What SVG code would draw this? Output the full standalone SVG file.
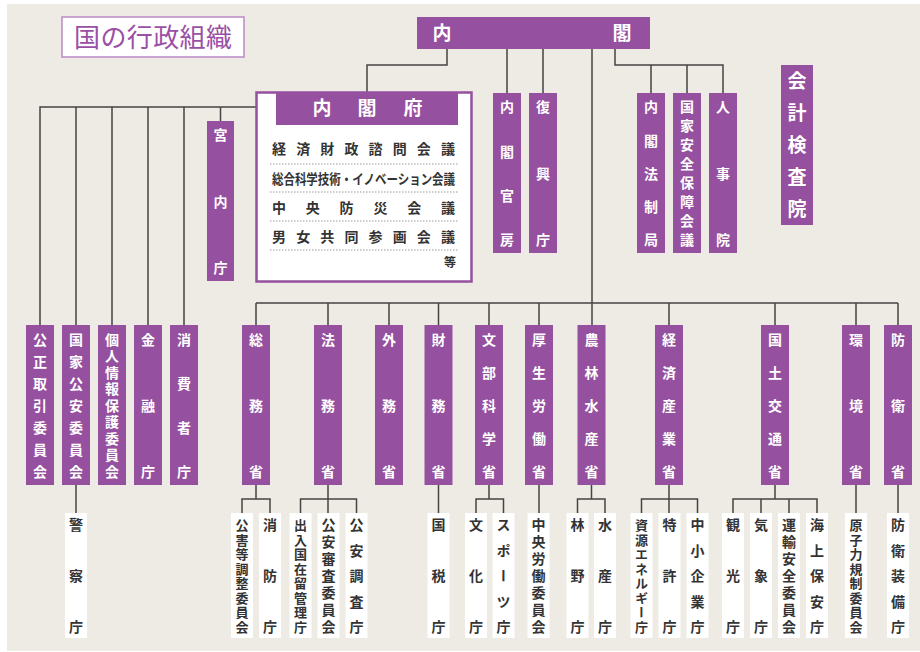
<svg xmlns="http://www.w3.org/2000/svg" width="920" height="652" viewBox="0 0 920 652">
<defs>
<style>
.bg{fill:#edebe4}
.pb{fill:#95509f}
.wb{fill:#ffffff}
.ln{fill:none;stroke:#444444;stroke-width:1.5}
.dot{fill:none;stroke:#9a9a9a;stroke-width:1;stroke-dasharray:1.5 1.5}
.vt{font-family:"Noto Sans CJK JP","Noto Sans CJK SC",sans-serif;font-weight:bold;font-size:14px;writing-mode:vertical-rl;text-anchor:middle}
.v8{font-size:13px}
.vw{fill:#ffffff}
.vd{fill:#333333}
.ht{font-family:"Noto Sans CJK JP","Noto Sans CJK SC",sans-serif;font-weight:bold}
</style>
</defs>
<rect x="0" y="0" width="920" height="652" fill="#ffffff"/>
<rect class="bg" x="7" y="4" width="913" height="647"/>

<g id="title">
<rect x="62" y="17" width="182" height="40" fill="#ffffff" stroke="#b98ac4" stroke-width="1.5"/>
<text x="74" y="47" font-family="'Noto Sans CJK JP','Noto Sans CJK SC',sans-serif" font-size="26" font-weight="400" fill="#9a4fa6" textLength="158" lengthAdjust="spacing">国の行政組織</text>
</g>

<g id="connectors">
<path class="ln" d="M447 49V65H367V92"/>
<path class="ln" d="M507 49V93M543 49V93"/>
<path class="ln" d="M592 49V325"/>
<path class="ln" d="M615 49V65H723V93M651 65V93M687 65V93"/>
<path class="ln" d="M256 107H40V325M76 107V325M112 107V325M148 107V325M184 107V325M220.5 107V121"/>
<path class="ln" d="M256 303H898M256 303V325M328 303V325M389 303V325M438.5 303V325M489 303V325M539 303V325M669 303V325M775 303V325M856 303V325M898 303V325"/>
<path class="ln" d="M76 485V513"/>
<path class="ln" d="M256 485V499M242 513V499H270V513"/>
<path class="ln" d="M328 485V513M300.5 513V499H356.5V513"/>
<path class="ln" d="M438.5 485V513"/>
<path class="ln" d="M489 485V499M476 513V499H503.5V513"/>
<path class="ln" d="M539 485V513"/>
<path class="ln" d="M591.5 485V499M577.5 513V499H605V513"/>
<path class="ln" d="M669 485V513M641.5 513V499H697.5V513"/>
<path class="ln" d="M775 485V499M733 513V499H817V513M761 499V513M789 499V513"/>
<path class="ln" d="M856 485V513"/>
<path class="ln" d="M898 485V513"/>
</g>

<g id="naikaku">
<rect class="pb" x="417" y="17" width="233" height="32"/>
<text class="ht" x="442" y="40" font-size="19" fill="#fff" text-anchor="middle">内</text>
<text class="ht" x="622" y="40" font-size="19" fill="#fff" text-anchor="middle">閣</text>
</g>

<g id="naikakufu">
<rect x="256.5" y="92.5" width="215" height="189" fill="#ffffff" stroke="#95509f" stroke-width="2.5"/>
<rect class="pb" x="276" y="92" width="182" height="33"/>
<text class="ht" x="322" y="115" font-size="19" fill="#fff" text-anchor="middle">内</text>
<text class="ht" x="367" y="115" font-size="19" fill="#fff" text-anchor="middle">閣</text>
<text class="ht" x="413" y="115" font-size="19" fill="#fff" text-anchor="middle">府</text>
<text class="ht" x="272" y="154" font-size="14" fill="#333" textLength="183" lengthAdjust="spacing">経済財政諮問会議</text>
<path class="dot" d="M270 164H458"/>
<text class="ht" x="272" y="184" font-size="14" fill="#333" textLength="183" lengthAdjust="spacingAndGlyphs">総合科学技術・イノベーション会議</text>
<path class="dot" d="M270 192H458"/>
<text class="ht" x="272" y="213" font-size="14" fill="#333" textLength="183" lengthAdjust="spacing">中央防災会議</text>
<path class="dot" d="M270 221H458"/>
<text class="ht" x="272" y="242" font-size="14" fill="#333" textLength="183" lengthAdjust="spacing">男女共同参画会議</text>
<path class="dot" d="M270 250H458"/>
<text class="ht" x="450" y="267" font-size="12" fill="#333" text-anchor="middle">等</text>
</g>

<g id="kunaicho"><rect class="pb" x="207" y="121" width="27" height="160"/><text class="vt vw" x="220.5" y="135 201.5 268">宮内庁</text></g>
<g id="naikakukanbo"><rect class="pb" x="493" y="93" width="28" height="160"/><text class="vt vw" x="507" y="107 151.3 195.7 240">内閣官房</text></g>
<g id="fukkocho"><rect class="pb" x="529" y="93" width="28" height="160"/><text class="vt vw" x="543" y="107 173.5 240">復興庁</text></g>
<g id="naikakuhoseikyoku"><rect class="pb" x="637" y="93" width="28" height="160"/><text class="vt vw" x="651" y="107 140.25 173.5 206.75 240">内閣法制局</text></g>
<g id="nss"><rect class="pb" x="673" y="93" width="28" height="160"/><text class="vt vw" x="687" y="107 126 145 164 183 202 221 240">国家安全保障会議</text></g>
<g id="jinjiin"><rect class="pb" x="709" y="93" width="28" height="160"/><text class="vt vw" x="723" y="107 173.5 240">人事院</text></g>
<g id="kaikeikensain"><rect class="pb" x="781" y="65" width="32" height="160"/><text class="vt vw" x="797" y="81 113 145 177 209" style="font-size:19px">会計検査院</text></g>

<g id="koutori"><rect class="pb" x="26" y="325" width="28" height="160"/><text class="vt vw" x="40" y="339.5 361.5 383.5 405.5 427.5 449.5 471.5">公正取引委員会</text></g>
<g id="kokkakoan"><rect class="pb" x="62" y="325" width="28" height="160"/><text class="vt vw" x="76" y="339.5 361.5 383.5 405.5 427.5 449.5 471.5">国家公安委員会</text></g>
<g id="kojinjoho"><rect class="pb" x="98" y="325" width="28" height="160"/><text class="vt vw" x="112" y="339.5 356 372.5 389 405.5 422 438.5 455 471.5">個人情報保護委員会</text></g>
<g id="kinyucho"><rect class="pb" x="134" y="325" width="28" height="160"/><text class="vt vw" x="148" y="339.5 405.5 471.5">金融庁</text></g>
<g id="shohisha"><rect class="pb" x="170" y="325" width="28" height="160"/><text class="vt vw" x="184" y="339.5 383.5 427.5 471.5">消費者庁</text></g>

<g id="somu"><rect class="pb" x="242" y="325" width="28" height="160"/><text class="vt vw" x="256" y="339.5 405.5 471.5">総務省</text></g>
<g id="homu"><rect class="pb" x="314" y="325" width="28" height="160"/><text class="vt vw" x="328" y="339.5 405.5 471.5">法務省</text></g>
<g id="gaimu"><rect class="pb" x="375" y="325" width="28" height="160"/><text class="vt vw" x="389" y="339.5 405.5 471.5">外務省</text></g>
<g id="zaimu"><rect class="pb" x="424.5" y="325" width="28" height="160"/><text class="vt vw" x="438.5" y="339.5 405.5 471.5">財務省</text></g>
<g id="monka"><rect class="pb" x="475" y="325" width="28" height="160"/><text class="vt vw" x="489" y="339.5 372.5 405.5 438.5 471.5">文部科学省</text></g>
<g id="koro"><rect class="pb" x="525" y="325" width="28" height="160"/><text class="vt vw" x="539" y="339.5 372.5 405.5 438.5 471.5">厚生労働省</text></g>
<g id="norin"><rect class="pb" x="577.5" y="325" width="28" height="160"/><text class="vt vw" x="591.5" y="339.5 372.5 405.5 438.5 471.5">農林水産省</text></g>
<g id="keisan"><rect class="pb" x="655" y="325" width="28" height="160"/><text class="vt vw" x="669" y="339.5 372.5 405.5 438.5 471.5">経済産業省</text></g>
<g id="kokudo"><rect class="pb" x="761" y="325" width="28" height="160"/><text class="vt vw" x="775" y="339.5 372.5 405.5 438.5 471.5">国土交通省</text></g>
<g id="kankyo"><rect class="pb" x="842" y="325" width="28" height="160"/><text class="vt vw" x="856" y="339.5 405.5 471.5">環境省</text></g>
<g id="boei"><rect class="pb" x="884" y="325" width="28" height="160"/><text class="vt vw" x="898" y="339.5 405.5 471.5">防衛省</text></g>

<g id="keisatsu"><rect class="wb" x="65" y="513" width="22" height="125"/><text class="vt vd" x="76" y="525 576 627">警察庁</text></g>
<g id="kogaito"><rect class="wb" x="231" y="513" width="22" height="125"/><text class="vt vd v8" x="242" y="525 539.6 554.1 568.7 583.3 597.9 612.4 627">公害等調整委員会</text></g>
<g id="shobo"><rect class="wb" x="259" y="513" width="22" height="125"/><text class="vt vd" x="270" y="525 576 627">消防庁</text></g>
<g id="nyukan"><rect class="wb" x="289.5" y="513" width="22" height="125"/><text class="vt vd v8" x="300.5" y="525 539.6 554.1 568.7 583.3 597.9 612.4 627">出入国在留管理庁</text></g>
<g id="koanshinsa"><rect class="wb" x="317.5" y="513" width="22" height="125"/><text class="vt vd" x="328.5" y="525 542 559 576 593 610 627">公安審査委員会</text></g>
<g id="koanchosa"><rect class="wb" x="345.5" y="513" width="22" height="125"/><text class="vt vd" x="356.5" y="525 550.5 576 601.5 627">公安調査庁</text></g>
<g id="kokuzei"><rect class="wb" x="427.5" y="513" width="22" height="125"/><text class="vt vd" x="438.5" y="525 576 627">国税庁</text></g>
<g id="bunka"><rect class="wb" x="465" y="513" width="22" height="125"/><text class="vt vd" x="476" y="525 576 627">文化庁</text></g>
<g id="sports"><rect class="wb" x="492.5" y="513" width="22" height="125"/><text class="vt vd" x="503.5" y="525 550.5 576 601.5 627">スポーツ庁</text></g>
<g id="churoi"><rect class="wb" x="527.5" y="513" width="22" height="125"/><text class="vt vd" x="538.5" y="525 542 559 576 593 610 627">中央労働委員会</text></g>
<g id="rinya"><rect class="wb" x="566.5" y="513" width="22" height="125"/><text class="vt vd" x="577.5" y="525 576 627">林野庁</text></g>
<g id="suisan"><rect class="wb" x="594" y="513" width="22" height="125"/><text class="vt vd" x="605" y="525 576 627">水産庁</text></g>
<g id="shigen"><rect class="wb" x="630.5" y="513" width="22" height="125"/><text class="vt vd v8" x="641.5" y="525 539.6 554.1 568.7 583.3 597.9 612.4 627">資源エネルギー庁</text></g>
<g id="tokkyo"><rect class="wb" x="658.5" y="513" width="22" height="125"/><text class="vt vd" x="669.5" y="525 576 627">特許庁</text></g>
<g id="chusho"><rect class="wb" x="686.5" y="513" width="22" height="125"/><text class="vt vd" x="697.5" y="525 550.5 576 601.5 627">中小企業庁</text></g>
<g id="kanko"><rect class="wb" x="722" y="513" width="22" height="125"/><text class="vt vd" x="733" y="525 576 627">観光庁</text></g>
<g id="kisho"><rect class="wb" x="750" y="513" width="22" height="125"/><text class="vt vd" x="761" y="525 576 627">気象庁</text></g>
<g id="unyuanzen"><rect class="wb" x="778" y="513" width="22" height="125"/><text class="vt vd" x="789" y="525 542 559 576 593 610 627">運輸安全委員会</text></g>
<g id="kaijo"><rect class="wb" x="806" y="513" width="22" height="125"/><text class="vt vd" x="817" y="525 550.5 576 601.5 627">海上保安庁</text></g>
<g id="genshiryoku"><rect class="wb" x="845" y="513" width="22" height="125"/><text class="vt vd v8" x="856" y="525 539.6 554.1 568.7 583.3 597.9 612.4 627">原子力規制委員会</text></g>
<g id="boeisobi"><rect class="wb" x="887" y="513" width="22" height="125"/><text class="vt vd" x="898" y="525 550.5 576 601.5 627">防衛装備庁</text></g>
</svg>
